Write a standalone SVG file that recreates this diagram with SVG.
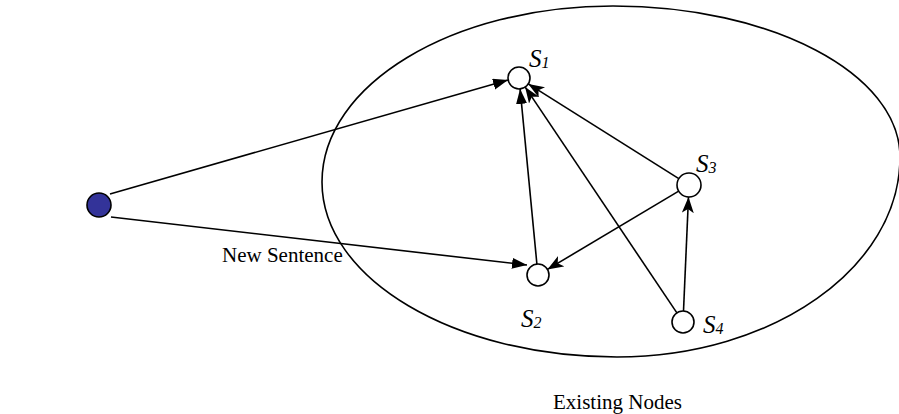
<svg xmlns="http://www.w3.org/2000/svg" width="899" height="414" viewBox="0 0 899 414">
<style>
.node{fill:#fff;stroke:#000;stroke-width:1.6}
.edge{stroke:#000;stroke-width:1.6;fill:none}
.lbl{font-family:"Liberation Serif","Times New Roman",serif;font-style:italic;font-size:25px;fill:#000}
.sub{font-size:16px}
.txt{font-family:"Liberation Serif","Times New Roman",serif;font-size:21px;fill:#000}
</style>
<defs>
<marker id="tri" markerUnits="userSpaceOnUse" markerWidth="16" markerHeight="12" refX="15" refY="5.5" orient="auto">
<path d="M0,0 L15,5.5 L0,11 z" fill="#000"/>
</marker>
<marker id="barb" markerUnits="userSpaceOnUse" markerWidth="17" markerHeight="13" refX="16" refY="6" orient="auto">
<path d="M0,0 L16,6 L0,12 L4,6 z" fill="#000"/>
</marker>
</defs>
<path id="cluster" d="M613,6 C771.5,6 900,73.6 900,157 C900,267.5 773.3,357 617,357 C454,357 322,278.7 322,182 C322,84.8 452.3,6 613,6 Z" fill="none" stroke="#000" stroke-width="1.6"/>
<g id="connectors">
<line class="edge" x1="110" y1="194" x2="508" y2="80" marker-end="url(#tri)"/>
<line class="edge" x1="111" y1="217" x2="527" y2="265" marker-end="url(#tri)"/>
<line class="edge" x1="536.9" y1="264.1" x2="520.1" y2="88.9" marker-end="url(#tri)"/>
<line class="edge" x1="678.8" y1="178.6" x2="528.3" y2="83.9" marker-end="url(#barb)"/>
<line class="edge" x1="678.7" y1="191.1" x2="547.4" y2="269.4" marker-end="url(#barb)"/>
<line class="edge" x1="676.9" y1="312.9" x2="525.1" y2="86.9" marker-end="url(#barb)"/>
<line class="edge" x1="683.5" y1="311" x2="688.5" y2="197" marker-end="url(#barb)"/>
</g>
<g id="new-sentence">
<circle cx="99" cy="205" r="12" fill="#333399" stroke="#000" stroke-width="1.6"/>
<text class="txt" x="222" y="262">New Sentence</text>
</g>
<g id="s1">
<circle class="node" cx="519" cy="78" r="11"/>
<text class="lbl" x="529" y="67">S<tspan class="sub" dy="1">1</tspan></text>
</g>
<g id="s2">
<circle class="node" cx="538" cy="275" r="11"/>
<text class="lbl" x="521" y="327">S<tspan class="sub" dy="1">2</tspan></text>
</g>
<g id="s3">
<circle class="node" cx="689" cy="185" r="12"/>
<text class="lbl" x="696" y="172">S<tspan class="sub" dy="1">3</tspan></text>
</g>
<g id="s4">
<circle class="node" cx="683" cy="322" r="11"/>
<text class="lbl" x="703" y="333">S<tspan class="sub" dy="1">4</tspan></text>
</g>
<text class="txt" x="553" y="409">Existing Nodes</text>
</svg>
